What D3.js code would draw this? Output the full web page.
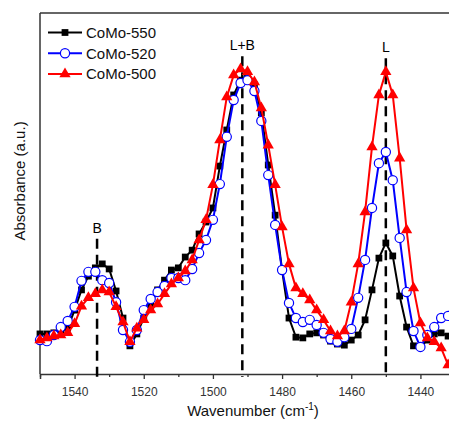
<!DOCTYPE html>
<html>
<head>
<meta charset="utf-8">
<script src="https://cdn.jsdelivr.net/npm/d3@7"></script>
<style>
  body { margin: 0; background: #fff; }
  text { font-family: "Liberation Sans", Arial, sans-serif; }
</style>
</head>
<body>
<script>
//wavenumbers of the spectrum points (cm-1)
var wavenumbers = [1550, 1548, 1546, 1544, 1542, 1540, 1538, 1536, 1534, 1532,
  1530, 1528, 1526, 1524, 1522, 1520, 1518, 1516, 1514, 1512,
  1510, 1508, 1506, 1504, 1502, 1500, 1498, 1496, 1494, 1492,
  1490, 1488, 1486, 1484, 1482, 1480, 1478, 1476, 1474, 1472,
  1470, 1468, 1466, 1464, 1462, 1460, 1458, 1456, 1454, 1452,
  1450, 1448, 1446, 1444, 1442, 1440, 1438, 1436, 1434, 1432, 1430];

//absorbance (a.u.) for each sample
var como550 = [0.111, 0.111, 0.114, 0.119, 0.127, 0.177, 0.233, 0.271, 0.294, 0.305,
  0.291, 0.230, 0.155, 0.078, 0.111, 0.155, 0.188, 0.233, 0.260, 0.288,
  0.294, 0.324, 0.343, 0.388, 0.421, 0.460, 0.576, 0.676, 0.773, 0.814,
  0.820, 0.801, 0.723, 0.579, 0.440, 0.288, 0.155, 0.102, 0.100, 0.111,
  0.114, 0.108, 0.091, 0.083, 0.080, 0.094, 0.108, 0.150, 0.233, 0.321,
  0.363, 0.327, 0.216, 0.130, 0.078, 0.075, 0.094, 0.111, 0.114, 0.105, 0.094];

var como520 = [0.094, 0.091, 0.108, 0.130, 0.147, 0.186, 0.258, 0.283, 0.283, 0.260,
  0.252, 0.199, 0.122, 0.089, 0.122, 0.177, 0.208, 0.227, 0.244, 0.266,
  0.266, 0.260, 0.291, 0.335, 0.371, 0.427, 0.526, 0.657, 0.759, 0.806,
  0.814, 0.784, 0.701, 0.551, 0.413, 0.288, 0.197, 0.155, 0.144, 0.150,
  0.136, 0.114, 0.097, 0.089, 0.102, 0.125, 0.211, 0.316, 0.460, 0.584,
  0.615, 0.537, 0.377, 0.227, 0.119, 0.075, 0.108, 0.130, 0.155, 0.161, 0.161];

var como500 = [0.094, 0.100, 0.105, 0.108, 0.114, 0.139, 0.188, 0.211, 0.222, 0.233,
  0.227, 0.186, 0.144, 0.089, 0.127, 0.150, 0.177, 0.194, 0.222, 0.249,
  0.266, 0.285, 0.316, 0.371, 0.427, 0.524, 0.648, 0.767, 0.828, 0.845,
  0.837, 0.809, 0.737, 0.634, 0.524, 0.407, 0.305, 0.238, 0.222, 0.205,
  0.177, 0.150, 0.119, 0.105, 0.119, 0.199, 0.305, 0.449, 0.629, 0.773,
  0.837, 0.773, 0.598, 0.399, 0.238, 0.141, 0.100, 0.089, 0.072, 0.025, 0.011];

var seriesNames = ["CoMo-550", "CoMo-520", "CoMo-500"];
var seriesColors = ["#000000", "#0000ff", "#ff0000"];

//band positions marked with dashed lines
var bandLabels = ["B", "L+B", "L"];
var bandPositions = [1533.5, 1491.5, 1450];
var bandTops = [0.375, 0.88, 0.875];

var xTicks = [1540, 1520, 1500, 1480, 1460, 1440];
var xMinorTicks = [1550, 1530, 1510, 1490, 1470, 1450, 1430];

var width = 449;
var height = 421;
var plotLeft = 40, plotTop = 13, plotRight = 455, plotBottom = 374;

var svg = d3.select("body").append("svg")
  .attr("width", width)
  .attr("height", height);

//x runs from high to low wavenumber, the right frame is cut off by the picture edge
var xScale = d3.scaleLinear()
  .domain([1550, 1430])
  .range([plotLeft, plotRight]);

var yScale = d3.scaleLinear()
  .domain([0, 1])
  .range([plotBottom, plotTop]);

//frame: left and top lines
svg.append("line")
  .attr("x1", plotLeft).attr("x2", plotLeft)
  .attr("y1", plotTop).attr("y2", plotBottom)
  .attr("stroke", "#333").attr("stroke-width", 1.5);
svg.append("line")
  .attr("x1", plotLeft).attr("x2", width)
  .attr("y1", plotTop).attr("y2", plotTop)
  .attr("stroke", "#333").attr("stroke-width", 1.5);

//bottom axis with major and minor ticks
var xAxis = d3.axisBottom(xScale)
  .tickValues(xTicks)
  .tickSize(5)
  .tickPadding(8)
  .tickFormat(d3.format("d"));

var gx = svg.append("g")
  .attr("transform", "translate(0," + plotBottom + ")")
  .call(xAxis);
gx.select(".domain").attr("stroke", "#333").attr("stroke-width", 1.5);
gx.selectAll(".tick line").attr("stroke", "#333").attr("stroke-width", 1.3);
gx.selectAll(".tick text")
  .attr("fill", "#333")
  .style("font-size", "12px")
  .style("font-family", "Liberation Sans, Arial, sans-serif");

var xMinor = d3.axisBottom(xScale)
  .tickValues(xMinorTicks)
  .tickSize(3)
  .tickFormat("");
var gm = svg.append("g")
  .attr("transform", "translate(0," + plotBottom + ")")
  .call(xMinor);
gm.select(".domain").remove();
gm.selectAll(".tick line").attr("stroke", "#333").attr("stroke-width", 1.3);

//dashed band lines with labels
bandPositions.forEach(function(p, i) {
  svg.append("line")
    .attr("x1", xScale(p)).attr("x2", xScale(p))
    .attr("y1", yScale(bandTops[i])).attr("y2", plotBottom + 3)
    .attr("stroke", "#000")
    .attr("stroke-width", 2.5)
    .attr("stroke-dasharray", "10,6");
  svg.append("text")
    .attr("x", xScale(p))
    .attr("y", yScale(bandTops[i]) - 6)
    .attr("text-anchor", "middle")
    .style("font-size", "14px")
    .text(bandLabels[i]);
});

//build the data for each series from the arrays
var allSeries = [como550, como520, como500].map(function(vals, i) {
  return {
    name: seriesNames[i],
    color: seriesColors[i],
    points: vals.map(function(v, j) { return { w: wavenumbers[j], a: v }; })
  };
});

var line = d3.line()
  .x(function(d) { return xScale(d.w); })
  .y(function(d) { return yScale(d.a); });

var triangle = d3.symbol().type(d3.symbolTriangle).size(55);
var square = d3.symbol().type(d3.symbolSquare).size(46);

//draws the marker of a series at (0,0)
function drawMarker(g, i) {
  if (i === 0) {
    g.append("path").attr("d", square()).attr("fill", "#000");
  } else if (i === 1) {
    g.append("circle").attr("r", 4.6)
      .attr("fill", "#fff").attr("stroke", "#0000ff").attr("stroke-width", 1.2);
  } else {
    g.append("path").attr("d", triangle()).attr("fill", "#ff0000");
  }
}

allSeries.forEach(function(s, i) {
  var g = svg.append("g");
  g.append("path")
    .datum(s.points)
    .attr("d", line)
    .attr("fill", "none")
    .attr("stroke", s.color)
    .attr("stroke-width", 2);
  g.selectAll("g.pt")
    .data(s.points)
    .join("g")
    .attr("class", "pt")
    .attr("transform", function(d) { return "translate(" + xScale(d.w) + "," + yScale(d.a) + ")"; })
    .each(function() { drawMarker(d3.select(this), i); });
});

//legend in the top left
var legend = svg.append("g");
allSeries.forEach(function(s, i) {
  var y = 32.5 + i * 20.7;
  legend.append("line")
    .attr("x1", 48).attr("x2", 82)
    .attr("y1", y).attr("y2", y)
    .attr("stroke", s.color).attr("stroke-width", 2);
  var m = legend.append("g").attr("transform", "translate(65," + y + ")");
  drawMarker(m, i);
  legend.append("text")
    .attr("x", 86).attr("y", y + 5.5)
    .style("font-size", "15px")
    .attr("fill", "#111")
    .text(s.name);
});

//axis titles
var xt = svg.append("text")
  .attr("x", 253).attr("y", 416)
  .attr("text-anchor", "middle")
  .style("font-size", "15px")
  .attr("fill", "#111");
xt.append("tspan").text("Wavenumber (cm");
xt.append("tspan").attr("dy", -6).style("font-size", "10px").text("-1");
xt.append("tspan").attr("dy", 6).text(")");

svg.append("text")
  .attr("transform", "translate(25,181) rotate(-90)")
  .attr("text-anchor", "middle")
  .style("font-size", "15px")
  .attr("fill", "#111")
  .text("Absorbance (a.u.)");
</script>
</body>
</html>
